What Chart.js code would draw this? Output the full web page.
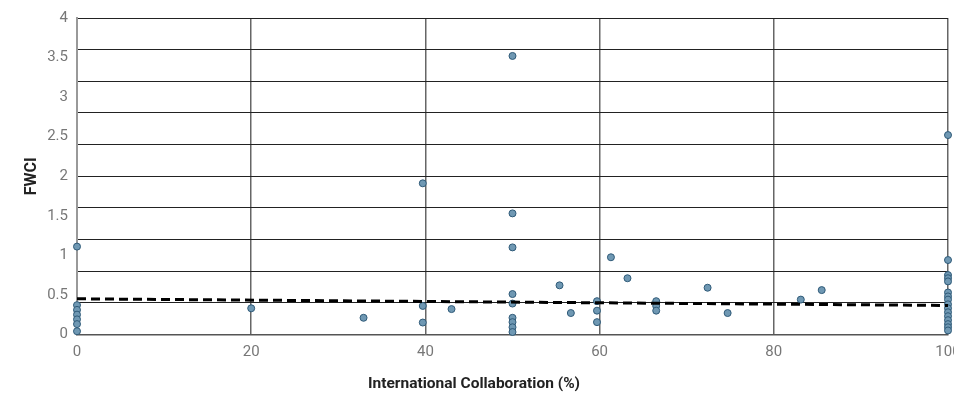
<!DOCTYPE html>
<html>
<head>
<meta charset="utf-8">
<script src="https://cdn.jsdelivr.net/npm/chart.js@4/dist/chart.umd.min.js"></script>
<style>
  html, body { margin: 0; padding: 0; background: #fff; overflow: hidden; }
  #wrap { position: relative; width: 970px; height: 397px; }
</style>
</head>
<body>
<div id="wrap"><canvas id="c"></canvas></div>
<script>
// ---- data ----
const collabX = [
  0, 0, 0, 0, 0, 0, 0,
  20, 32.9,
  39.7, 39.7, 39.7,
  43.0,
  50, 50, 50, 50, 50, 50, 50, 50, 50,
  55.4, 56.7,
  59.7, 59.7, 59.7,
  61.3, 63.2,
  66.5, 66.5, 66.5,
  72.4, 74.7, 83.1, 85.5,
  100, 100, 100, 100, 100, 100, 100, 100, 100, 100, 100, 100, 100, 100, 100, 100
];
const fwciY = [
  1.11, 0.37, 0.31, 0.25, 0.19, 0.13, 0.04,
  0.33, 0.21,
  1.91, 0.36, 0.15,
  0.32,
  3.52, 1.53, 1.10, 0.51, 0.39, 0.21, 0.155, 0.09, 0.03,
  0.62, 0.27,
  0.42, 0.30, 0.155,
  0.975, 0.71,
  0.42, 0.36, 0.30,
  0.59, 0.27, 0.44, 0.56,
  2.52, 0.94, 0.75, 0.71, 0.67, 0.53, 0.48, 0.44, 0.38, 0.33, 0.28, 0.23, 0.18, 0.13, 0.09, 0.05
];
const trendX = [0, 100];
const trendY = [0.45, 0.366];
const xTicks = [0, 20, 40, 60, 80, 100];
const yLabelTicks = [0, 0.5, 1, 1.5, 2, 2.5, 3, 3.5, 4];
const yGridLines = [0, 0.4, 0.8, 1.2, 1.6, 2.0, 2.4, 2.8, 3.2, 3.6, 4.0];
const xTitle = 'International Collaboration (%)';
const yTitle = 'FWCI';

const near = (arr, v) => arr.some(a => Math.abs(a - v) < 1e-6);
const yAllTicks = Array.from(new Set(yLabelTicks.concat(yGridLines).map(v => +v.toFixed(4)))).sort((a, b) => a - b);

const points = collabX.map((x, i) => ({ x: x, y: fwciY[i] }));
const trend = trendX.map((x, i) => ({ x: x, y: trendY[i] }));

const tickFont = { family: 'Roboto', size: 15 };

new Chart(document.getElementById('c'), {
  type: 'scatter',
  data: {
    datasets: [
      {
        type: 'line',
        data: trend,
        borderColor: '#000',
        borderWidth: 3,
        borderDash: [9, 5],
        pointRadius: 0,
        fill: false,
        showLine: true,
        order: 0,
        clip: false
      },
      {
        data: points,
        backgroundColor: '#6f98b3',
        borderColor: '#2f5a78',
        borderWidth: 1,
        pointRadius: 3.5,
        order: 1,
        clip: false
      }
    ]
  },
  options: {
    animation: false,
    responsive: true,
    maintainAspectRatio: false,
    devicePixelRatio: 1,
    layout: { padding: { top: 18, right: 22, left: 0, bottom: 0 } },
    plugins: {
      legend: { display: false },
      tooltip: { enabled: false },
      title: {
        display: true,
        position: 'bottom',
        text: xTitle,
        color: '#222',
        font: { family: 'Roboto', size: 15.5, weight: 'bold' },
        padding: { top: 2, bottom: 4 }
      }
    },
    scales: {
      x: {
        type: 'linear',
        min: 0,
        max: 100,
        afterBuildTicks: (s) => { s.ticks = xTicks.map(v => ({ value: v })); },
        afterFit: (s) => { s.height = 38; },
        ticks: { font: tickFont, color: '#777', padding: 9, autoSkip: false, maxRotation: 0 },
        grid: { color: '#666', lineWidth: 1.5, drawTicks: false },
        border: { color: '#555', width: 1.5 }
      },
      y: {
        type: 'linear',
        min: 0,
        max: 4,
        afterBuildTicks: (s) => { s.ticks = yAllTicks.map(v => ({ value: v })); },
        afterFit: (s) => { s.width = 77; },
        ticks: {
          font: tickFont, color: '#777', padding: 9, autoSkip: false,
          callback: (v) => near(yLabelTicks, v) ? String(v) : ''
        },
        grid: {
          drawTicks: false,
          lineWidth: 1,
          color: (ctx) => (ctx.tick && near(yGridLines, ctx.tick.value)) ? '#222' : 'rgba(0,0,0,0)'
        },
        border: { color: '#999', width: 2 },
        title: { display: true, text: yTitle, font: { family: 'Roboto', size: 16, weight: 'bold' }, color: '#222', padding: { top: 22, bottom: 0 } }
      }
    }
  }
});
</script>
</body>
</html>
